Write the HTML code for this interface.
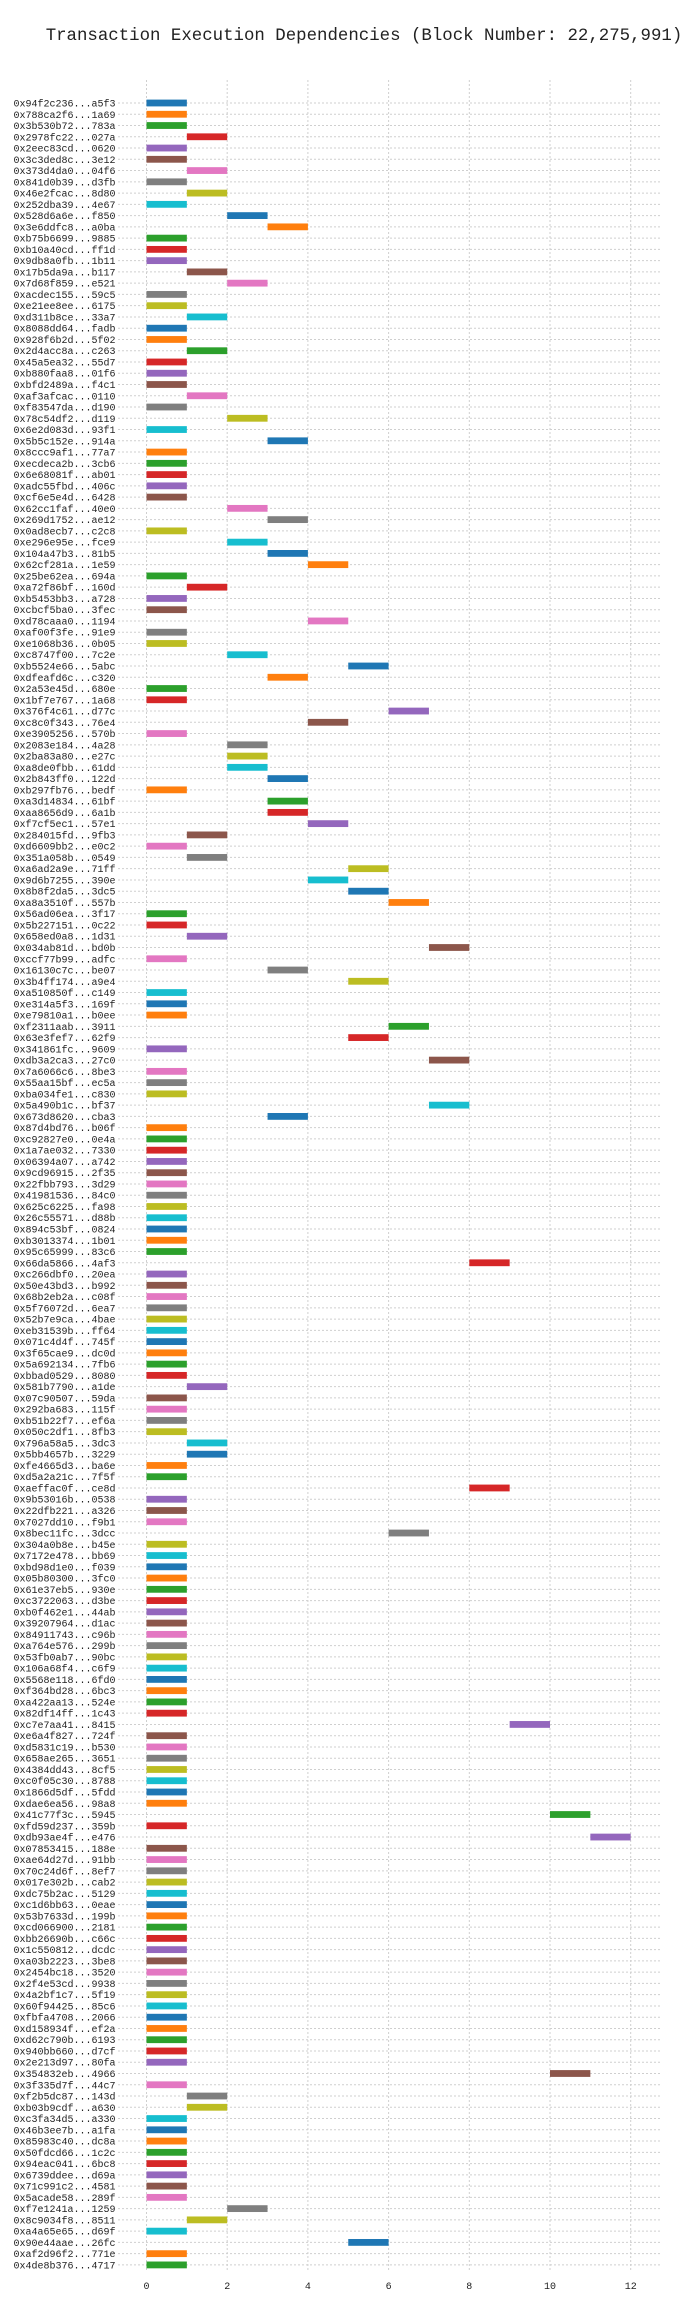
<!DOCTYPE html>
<html><head><meta charset="utf-8">
<style>
html,body{margin:0;padding:0;background:#fff;}
svg{display:block;}
text{font-family:"Liberation Mono","DejaVu Sans Mono",monospace;fill:#222;}
</style></head>
<body>
<svg id="chart" width="700" height="2316" viewBox="0 0 700 2316" xmlns="http://www.w3.org/2000/svg">
<text x="364" y="40" text-anchor="middle" font-size="17.4">Transaction Execution Dependencies (Block Number: 22,275,991)</text>
<g id="grid"></g>
<g id="ylabels"></g>
<g id="bars"></g>
<g id="xticks"></g>
</svg>
<script>
const txLabels = ["0x94f2c236...a5f3","0x788ca2f6...1a69","0x3b530b72...783a","0x2978fc22...027a","0x2eec83cd...0620","0x3c3ded8c...3e12","0x373d4da0...04f6","0x841d0b39...d3fb","0x46e2fcac...8d80","0x252dba39...4e67","0x528d6a6e...f850","0x3e6ddfc8...a0ba","0xb75b6699...9885","0xb10a40cd...ff1d","0x9db8a0fb...1b11","0x17b5da9a...b117","0x7d68f859...e521","0xacdec155...59c5","0xe21ee8ee...6175","0xd311b8ce...33a7","0x8088dd64...fadb","0x928f6b2d...5f02","0x2d4acc8a...c263","0x45a5ea32...55d7","0xb880faa8...01f6","0xbfd2489a...f4c1","0xaf3afcac...0110","0xf83547da...d190","0x78c54df2...d119","0x6e2d083d...93f1","0x5b5c152e...914a","0x8ccc9af1...77a7","0xecdeca2b...3cb6","0x6e68081f...ab01","0xadc55fbd...406c","0xcf6e5e4d...6428","0x62cc1faf...40e0","0x269d1752...ae12","0x0ad8ecb7...c2c8","0xe296e95e...fce9","0x104a47b3...81b5","0x62cf281a...1e59","0x25be62ea...694a","0xa72f86bf...160d","0xb5453bb3...a728","0xcbcf5ba0...3fec","0xd78caaa0...1194","0xaf00f3fe...91e9","0xe1068b36...0b05","0xc8747f00...7c2e","0xb5524e66...5abc","0xdfeafd6c...c320","0x2a53e45d...680e","0x1bf7e767...1a68","0x376f4c61...d77c","0xc8c0f343...76e4","0xe3905256...570b","0x2083e184...4a28","0x2ba83a80...e27c","0xa8de0fbb...61dd","0x2b843ff0...122d","0xb297fb76...bedf","0xa3d14834...61bf","0xaa8656d9...6a1b","0xf7cf5ec1...57e1","0x284015fd...9fb3","0xd6609bb2...e0c2","0x351a058b...0549","0xa6ad2a9e...71ff","0x9d6b7255...390e","0x8b8f2da5...3dc5","0xa8a3510f...557b","0x56ad06ea...3f17","0x5b227151...0c22","0x658ed0a8...1d31","0x034ab81d...bd0b","0xccf77b99...adfc","0x16130c7c...be07","0x3b4ff174...a9e4","0xa510850f...c149","0xe314a5f3...169f","0xe79810a1...b0ee","0xf2311aab...3911","0x63e3fef7...62f9","0x341861fc...9609","0xdb3a2ca3...27c0","0x7a6066c6...8be3","0x55aa15bf...ec5a","0xba034fe1...c830","0x5a490b1c...bf37","0x673d8620...cba3","0x87d4bd76...b06f","0xc92827e0...0e4a","0x1a7ae032...7330","0x06394a07...a742","0x9cd96915...2f35","0x22fbb793...3d29","0x41981536...84c0","0x625c6225...fa98","0x26c55571...d88b","0x894c53bf...0824","0xb3013374...1b01","0x95c65999...83c6","0x66da5866...4af3","0xc266dbf0...20ea","0x50e43bd3...b992","0x68b2eb2a...c08f","0x5f76072d...6ea7","0x52b7e9ca...4bae","0xeb31539b...ff64","0x071c4d4f...745f","0x3f65cae9...dc0d","0x5a692134...7fb6","0xbbad0529...8080","0x581b7790...a1de","0x07c90507...59da","0x292ba683...115f","0xb51b22f7...ef6a","0x050c2df1...8fb3","0x796a58a5...3dc3","0x5bb4657b...3229","0xfe4665d3...ba6e","0xd5a2a21c...7f5f","0xaeffac0f...ce8d","0x9b53016b...0538","0x22dfb221...a326","0x7027dd10...f9b1","0x8bec11fc...3dcc","0x304a0b8e...b45e","0x7172e478...bb69","0xbd98d1e0...f039","0x05b80300...3fc0","0x61e37eb5...930e","0xc3722063...d3be","0xb0f462e1...44ab","0x39207964...d1ac","0x84911743...c96b","0xa764e576...299b","0x53fb0ab7...90bc","0x106a68f4...c6f9","0x5568e118...6fd0","0xf364bd28...6bc3","0xa422aa13...524e","0x82df14ff...1c43","0xc7e7aa41...8415","0xe6a4f827...724f","0xd5831c19...b530","0x658ae265...3651","0x4384dd43...8cf5","0xc0f05c30...8788","0x1866d5df...5fdd","0xdae6ea56...98a8","0x41c77f3c...5945","0xfd59d237...359b","0xdb93ae4f...e476","0x07853415...188e","0xae64d27d...91bb","0x70c24d6f...8ef7","0x017e302b...cab2","0xdc75b2ac...5129","0xc1d6bb63...0eae","0x53b7633d...199b","0xcd066900...2181","0xbb26690b...c66c","0x1c550812...dcdc","0xa03b2223...3be8","0x2454bc18...3520","0x2f4e53cd...9938","0x4a2bf1c7...5f19","0x60f94425...85c6","0xfbfa4708...2066","0xd158934f...ef2a","0xd62c790b...6193","0x940bb660...d7cf","0x2e213d97...80fa","0x354832eb...4966","0x3f335d7f...44c7","0xf2b5dc87...143d","0xb03b9cdf...a630","0xc3fa34d5...a330","0x46b3ee7b...a1fa","0x85983c40...dc8a","0x50fdcd66...1c2c","0x94eac041...6bc8","0x6739ddee...d69a","0x71c991c2...4581","0x5acade58...289f","0xf7e1241a...1259","0x8c9034f8...8511","0xa4a65e65...d69f","0x90e44aae...26fc","0xaf2d96f2...771e","0x4de8b376...4717"];
const startValues = [0,0,0,1,0,0,1,0,1,0,2,3,0,0,0,1,2,0,0,1,0,0,1,0,0,0,1,0,2,0,3,0,0,0,0,0,2,3,0,2,3,4,0,1,0,0,4,0,0,2,5,3,0,0,6,4,0,2,2,2,3,0,3,3,4,1,0,1,5,4,5,6,0,0,1,7,0,3,5,0,0,0,6,5,0,7,0,0,0,7,3,0,0,0,0,0,0,0,0,0,0,0,0,8,0,0,0,0,0,0,0,0,0,0,1,0,0,0,0,1,1,0,0,8,0,0,0,6,0,0,0,0,0,0,0,0,0,0,0,0,0,0,0,0,9,0,0,0,0,0,0,0,10,0,11,0,0,0,0,0,0,0,0,0,0,0,0,0,0,0,0,0,0,0,0,10,0,1,1,0,0,0,0,0,0,0,0,2,1,0,5,0,0];
const durations = startValues.map(() => 1);
const xTicks = [0,2,4,6,8,10,12];
const palette = ["#1f77b4","#ff7f0e","#2ca02c","#d62728","#9467bd","#8c564b","#e377c2","#7f7f7f","#bcbd22","#17becf"];

const NS = "http://www.w3.org/2000/svg";
const X0 = 146.5, UNIT = 40.35, Y0 = 103, ROWH = 11.26;
const xScale = v => X0 + v * UNIT;
const yScale = i => Y0 + i * ROWH;
const GRID_L = 118, GRID_R = 660, GRID_T = 80, GRID_B = 2271;

function mk(tag, attrs, parent){
  const el = document.createElementNS(NS, tag);
  for (const k in attrs) el.setAttribute(k, attrs[k]);
  parent.appendChild(el);
  return el;
}
const grid = document.getElementById('grid');
const yl = document.getElementById('ylabels');
const bars = document.getElementById('bars');
const xt = document.getElementById('xticks');

xTicks.forEach(t => {
  const l = mk('line', {x1:xScale(t), x2:xScale(t), y1:GRID_T, y2:GRID_B, stroke:'#cfcfcf', 'stroke-width':1, 'stroke-dasharray':'2,2'}, grid);
  
  
  const tx = mk('text', {x:xScale(t), y:2289, 'text-anchor':'middle', 'font-size':10}, xt);
  tx.textContent = String(t);
  
  
});

txLabels.forEach((lab, i) => {
  const y = yScale(i);
  const g = mk('line', {x1:GRID_L, x2:GRID_R, y1:y, y2:y, stroke:'#cfcfcf', 'stroke-width':1, 'stroke-dasharray':'2,2'}, grid);
  
  
  const t = mk('text', {x:115.5, y:y+3.5, 'text-anchor':'end', 'font-size':10}, yl);
  t.textContent = lab;
  
  
  const s = startValues[i];
  const r = mk('rect', {x:xScale(s), y:y-3.4, width:xScale(s+durations[i]) - xScale(s), height:6.8, fill:palette[i % 10]}, bars);
  
  
});
</script>
</body></html>
